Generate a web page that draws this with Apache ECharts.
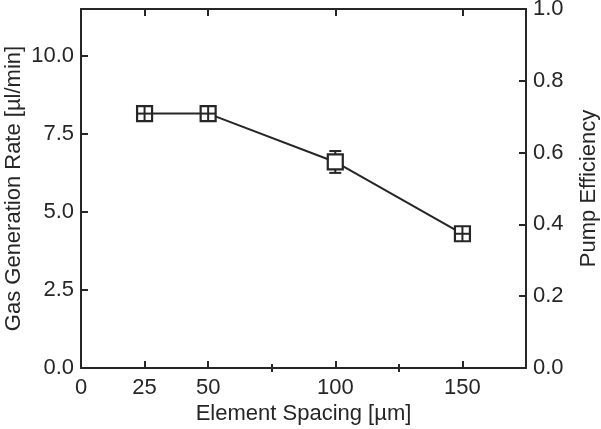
<!DOCTYPE html>
<html>
<head>
<meta charset="utf-8">
<script src="https://cdn.jsdelivr.net/npm/echarts@6/dist/echarts.min.js"></script>
<style>html,body{margin:0;padding:0;background:#fff}#c{width:601px;height:429px}</style>
</head>
<body>
<div id="c"></div>
<script>
// ---- data ----
const spacing = [25, 50, 100, 150];          // Element Spacing [µm]
const rate = [8.15, 8.15, 6.6, 4.3];         // Gas Generation Rate [µl/min]
const rateErr = [0.12, 0.12, 0.35, 0.1];     // error (±)
const xLabels = [0, 25, 50, 100, 150];
const xMajorTicks = [25, 50, 100, 150];
const xMinorTicks = [75, 125];
const yLabels = [0, 2.5, 5, 7.5, 10];
const yTicks = [2.5, 5, 7.5, 10];

const INK = '#262626';
const FONT = "'Liberation Sans', Arial, sans-serif";
const FS = 22;

const chart = echarts.init(document.getElementById('c'), null, {renderer: 'canvas'});

const lineData = spacing.map((x, i) => [x, rate[i]]);
const markData = spacing.map((x, i) => [x, rate[i], rateErr[i]]);

function renderMarker(params, api) {
  const x = api.value(0), y = api.value(1), e = api.value(2);
  const c = api.coord([x, y]);
  const t = api.coord([x, y + e]);
  const b = api.coord([x, y - e]);
  const h = 7.5, cw = 6;
  const st = {stroke: INK, lineWidth: 2, fill: null};
  const ch = [];
  const big = (c[1] - t[1]) > h;
  if (big) {
    ch.push({type: 'line', shape: {x1: c[0], y1: t[1], x2: c[0], y2: b[1]}, style: st});
    ch.push({type: 'line', shape: {x1: c[0] - cw, y1: t[1], x2: c[0] + cw, y2: t[1]}, style: st});
    ch.push({type: 'line', shape: {x1: c[0] - cw, y1: b[1], x2: c[0] + cw, y2: b[1]}, style: st});
  }
  ch.push({type: 'rect', shape: {x: c[0] - h, y: c[1] - h, width: 2 * h, height: 2 * h},
           style: {fill: '#fff', stroke: INK, lineWidth: 2.2}});
  if (!big) {
    ch.push({type: 'line', shape: {x1: c[0], y1: c[1] - h, x2: c[0], y2: c[1] + h}, style: st});
    ch.push({type: 'line', shape: {x1: c[0] - h, y1: c[1], x2: c[0] + h, y2: c[1]}, style: st});
  }
  return {type: 'group', children: ch};
}

const axisLine = {show: true, onZero: false, lineStyle: {color: INK, width: 2}};
const txt = {color: INK, fontFamily: FONT, fontSize: FS};

const option = {
  animation: false,
  backgroundColor: '#fff',
  grid: {left: 81, right: 75, top: 9, bottom: 61, containLabel: false, outerBoundsMode: 'none'},
  xAxis: [
    {
      type: 'value', position: 'bottom', min: 0, max: 175,
      axisLine: axisLine,
      axisTick: {show: true, inside: true, length: 7, customValues: xMajorTicks, lineStyle: {color: INK, width: 2}},
      axisLabel: Object.assign({show: true, margin: 9, customValues: xLabels}, txt),
      splitLine: {show: false},
      name: 'Element Spacing [µm]', nameLocation: 'middle', nameGap: 35, nameMoveOverlap: false,
      nameTextStyle: txt
    },
    {
      type: 'value', position: 'bottom', min: 0, max: 175,
      axisLine: {show: false},
      axisTick: {show: true, inside: true, length: 4, customValues: xMinorTicks, lineStyle: {color: INK, width: 2}},
      axisLabel: {show: false}, splitLine: {show: false}
    },
    {
      type: 'value', position: 'top', min: 0, max: 175,
      axisLine: axisLine,
      axisTick: {show: true, inside: true, length: 7, customValues: xMajorTicks, lineStyle: {color: INK, width: 2}},
      axisLabel: {show: false}, splitLine: {show: false}
    },
    {
      type: 'value', position: 'top', min: 0, max: 175,
      axisLine: {show: false},
      axisTick: {show: true, inside: true, length: 4, customValues: xMinorTicks, lineStyle: {color: INK, width: 2}},
      axisLabel: {show: false}, splitLine: {show: false}
    }
  ],
  yAxis: [
    {
      type: 'value', position: 'left', min: 0, max: 11.5,
      axisLine: axisLine,
      axisTick: {show: true, inside: true, length: 7, customValues: yTicks, lineStyle: {color: INK, width: 2}},
      axisLabel: Object.assign({show: true, margin: 7, customValues: yLabels, formatter: v => (+v).toFixed(1)}, txt),
      splitLine: {show: false},
      name: 'Gas Generation Rate [µl/min]', nameLocation: 'middle', nameGap: 56, nameRotate: 90,
      nameMoveOverlap: false,
      nameTextStyle: txt
    },
    {
      type: 'value', position: 'right', min: 0, max: 1, interval: 0.2,
      axisLine: axisLine,
      axisTick: {show: true, inside: true, length: 7, lineStyle: {color: INK, width: 2}},
      axisLabel: Object.assign({show: true, margin: 7, formatter: v => (+v).toFixed(1)}, txt),
      splitLine: {show: false},
      name: 'Pump Efficiency', nameLocation: 'middle', nameGap: 52, nameRotate: 90,
      nameMoveOverlap: false,
      nameTextStyle: txt
    }
  ],
  series: [
    {
      type: 'line', xAxisIndex: 0, yAxisIndex: 0, data: lineData,
      symbol: 'none', lineStyle: {color: INK, width: 2}, z: 2
    },
    {
      type: 'custom', xAxisIndex: 0, yAxisIndex: 0, data: markData,
      renderItem: renderMarker, z: 3
    }
  ]
};
chart.setOption(option);
</script>
</body>
</html>
